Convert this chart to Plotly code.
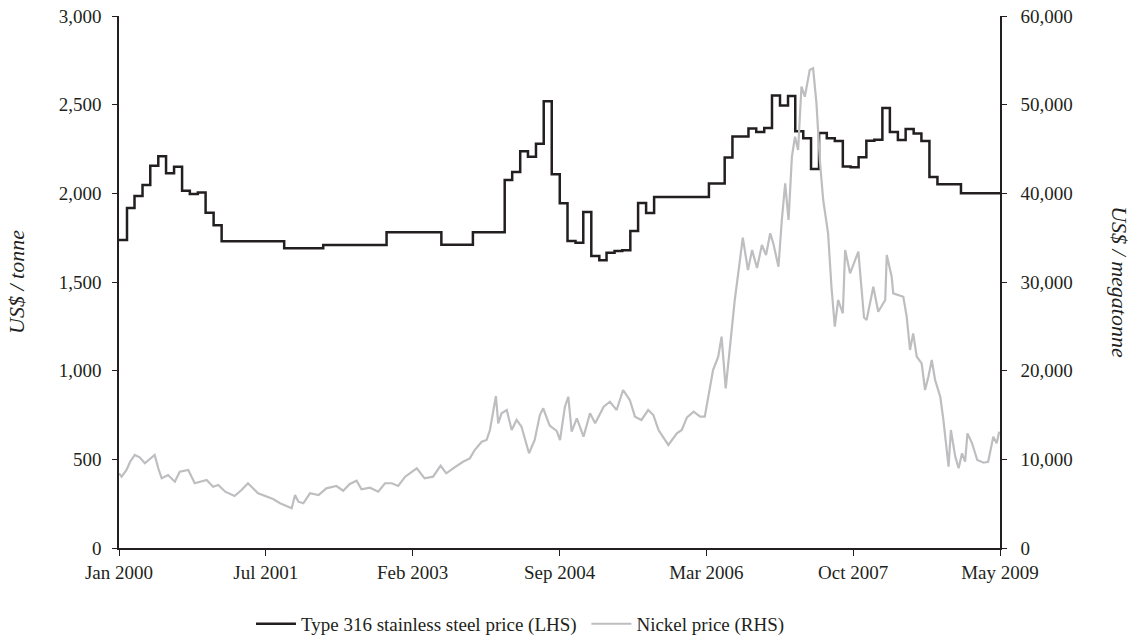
import pandas as pd
import plotly.graph_objects as go

# Type 316 stainless steel, monthly (US$/tonne), Jan 2000 - May 2009
steel_start = "2000-01-01"
steel_price = [
    1737, 1917, 1985, 2047, 2156, 2209, 2113, 2150, 2015, 1996, 2004, 1891,
    1820, 1730, 1730, 1730, 1730, 1730, 1730, 1730, 1730, 1690, 1690, 1690,
    1690, 1690, 1709, 1709, 1709, 1709, 1709, 1709, 1709, 1709, 1780, 1780,
    1780, 1780, 1780, 1780, 1780, 1710, 1710, 1710, 1710, 1780, 1780, 1780,
    1780, 2075, 2120, 2237, 2207, 2280, 2519, 2107, 1944, 1731, 1722, 1895,
    1647, 1622, 1665, 1675, 1679, 1788, 1946, 1889, 1979, 1979, 1979, 1979,
    1979, 1979, 1979, 2056, 2056, 2202, 2320, 2320, 2365, 2346, 2368, 2551,
    2496, 2549, 2350, 2310, 2137, 2340, 2310, 2295, 2152, 2147, 2203, 2297,
    2302, 2481, 2346, 2301, 2363, 2338, 2295, 2092, 2051, 2051, 2051, 2000,
    2000, 2000, 2000, 2000, 2000,
]

# Nickel price
nickel_dates = [
    "2000-01-01", "2000-01-11", "2000-01-30", "2000-02-13", "2000-03-02", "2000-03-21",
    "2000-04-10", "2000-04-29", "2000-05-18", "2000-06-01", "2000-06-14", "2000-07-09",
    "2000-08-04", "2000-08-23", "2000-09-25", "2000-10-20", "2000-12-05", "2000-12-30",
    "2001-01-19", "2001-02-15", "2001-03-23", "2001-04-19", "2001-05-14", "2001-06-22",
    "2001-07-24", "2001-08-19", "2001-09-15", "2001-10-30", "2001-11-12", "2001-11-25",
    "2001-12-14", "2002-01-09", "2002-02-11", "2002-03-13", "2002-04-21", "2002-05-17",
    "2002-06-12", "2002-07-08", "2002-07-27", "2002-08-29", "2002-09-30", "2002-10-26",
    "2002-11-21", "2002-12-16", "2003-01-12", "2003-02-01", "2003-02-26", "2003-03-28",
    "2003-04-30", "2003-05-29", "2003-06-20", "2003-07-22", "2003-08-24", "2003-09-19",
    "2003-10-08", "2003-11-04", "2003-11-23", "2003-12-06", "2003-12-18", "2003-12-29",
    "2004-01-07", "2004-01-20", "2004-02-09", "2004-02-28", "2004-03-18", "2004-04-06",
    "2004-05-05", "2004-05-27", "2004-06-16", "2004-06-29", "2004-07-24", "2004-08-20",
    "2004-09-02", "2004-09-21", "2004-10-04", "2004-10-17", "2004-11-06", "2004-12-02",
    "2004-12-27", "2005-01-16", "2005-02-18", "2005-03-14", "2005-04-09", "2005-05-04",
    "2005-05-30", "2005-06-19", "2005-07-14", "2005-08-09", "2005-08-29", "2005-09-18",
    "2005-10-26", "2005-11-28", "2005-12-17", "2006-01-06", "2006-02-01", "2006-02-26",
    "2006-03-16", "2006-03-29", "2006-04-17", "2006-05-07", "2006-05-20", "2006-06-05",
    "2006-06-15", "2006-06-28", "2006-07-10", "2006-07-29", "2006-08-10", "2006-08-30",
    "2006-09-15", "2006-10-04", "2006-10-23", "2006-11-08", "2006-11-24", "2006-12-06",
    "2006-12-26", "2007-01-08", "2007-01-21", "2007-02-03", "2007-02-16", "2007-02-28",
    "2007-03-12", "2007-03-25", "2007-04-07", "2007-04-26", "2007-05-09", "2007-05-22",
    "2007-06-04", "2007-06-17", "2007-07-06", "2007-07-19", "2007-08-01", "2007-08-14",
    "2007-09-01", "2007-09-10", "2007-09-29", "2007-10-31", "2007-11-15", "2007-11-22",
    "2007-12-02", "2007-12-28", "2008-01-16", "2008-02-12", "2008-02-18", "2008-03-08",
    "2008-03-14", "2008-04-03", "2008-04-22", "2008-05-05", "2008-05-18", "2008-05-30",
    "2008-06-13", "2008-07-02", "2008-07-15", "2008-07-28", "2008-08-10", "2008-08-23",
    "2008-09-12", "2008-09-24", "2008-10-08", "2008-10-14", "2008-10-23", "2008-11-09",
    "2008-11-22", "2008-12-05", "2008-12-17", "2008-12-26", "2009-01-13", "2009-02-02",
    "2009-02-27", "2009-03-16", "2009-03-23", "2009-04-05", "2009-04-18", "2009-04-28",
]
nickel_price = [
    8425, 8045, 8797, 9733, 10490, 10230,
    9550, 10000, 10490, 8990, 7860, 8230,
    7480, 8600, 8800, 7300, 7670, 6910,
    7100, 6350, 5860, 6540, 7300, 6170,
    5785, 5525, 5040, 4475, 5980, 5220,
    5040, 6170, 5980, 6730, 6990, 6460,
    7220, 7590, 6620, 6800, 6350, 7300,
    7300, 6990, 8045, 8420, 8990, 7860,
    8045, 9280, 8420, 9100, 9730, 10110,
    11050, 11990, 12180, 13310, 15560, 17140,
    14060, 15190, 15560, 13310, 14440, 13680,
    10680, 12180, 15000, 15750, 13800, 13200,
    12180, 15935, 17060, 13120, 14630, 12550,
    15190, 14060, 15935, 16500, 15560, 17820,
    16690, 14810, 14440, 15560, 15000, 13310,
    11620, 12930, 13310, 14740, 15370, 14810,
    14810, 17060, 20070, 21570, 23830, 18010,
    20830, 24590, 27970, 32250, 35000, 31350,
    33600, 31580, 34170, 33040, 35490, 34360,
    31720, 36990, 41130, 36990, 44130, 46390,
    44890, 52030, 50900, 53910, 54100, 50150,
    43760, 39250, 35490, 29470, 24960, 27970,
    26470, 33610, 30980, 33420, 28720, 26000,
    25710, 29470, 26650, 27970, 33040, 30600,
    28720, 28530, 28340, 26090, 22330, 24210,
    21570, 20830, 17820, 19320, 21200, 18950,
    17060, 14440, 11050, 9170, 13310, 10300,
    8990, 10680, 9730, 12930, 11810, 9925,
    9620, 9730, 10680, 12550, 11810, 13120,
]

x_start, x_end = "2000-01-01", "2009-05-01"
tick_text = ["Jan 2000", "Jul 2001", "Feb 2003", "Sep 2004", "Mar 2006", "Oct 2007", "May 2009"]

steel_dates = pd.date_range(steel_start, periods=len(steel_price), freq="MS")
tick_vals = pd.date_range(x_start, x_end, periods=len(tick_text))

font = "Liberation Serif, Times New Roman, serif"
ink = "#231F20"
gap = "\u00a0"  # a little extra room between the two legend entries

fig = go.Figure()
fig.add_trace(go.Scatter(
    x=steel_dates, y=steel_price, mode="lines", line_shape="hv",
    name="Type 316 stainless steel price (LHS)" + gap,
    line=dict(color=ink, width=2.5),
))
fig.add_trace(go.Scatter(
    x=pd.to_datetime(nickel_dates), y=nickel_price, mode="lines", yaxis="y2",
    name="Nickel price (RHS)",
    line=dict(color="#BEBEC1", width=2.2),
))

axis_common = dict(showgrid=False, zeroline=False, showline=True, linecolor=ink,
                   linewidth=1.5, ticks="outside", tickcolor=ink, automargin=False,
                   tickfont=dict(family=font, size=19, color=ink))

fig.update_layout(
    width=1131, height=641,
    margin=dict(l=119, r=131, t=16, b=93, autoexpand=False),
    paper_bgcolor="white", plot_bgcolor="white",
    font=dict(family=font, size=19, color=ink),
    xaxis=dict(type="date", range=[x_start, x_end], tickvals=tick_vals, ticktext=tick_text,
               ticklen=6, ticklabelstandoff=0, **axis_common),
    yaxis=dict(range=[0, 3000], tickvals=[0, 500, 1000, 1500, 2000, 2500, 3000],
               tickformat=",d", ticklen=5, ticklabelstandoff=7, **axis_common),
    yaxis2=dict(range=[0, 60000], overlaying="y", side="right",
                tickvals=[0, 10000, 20000, 30000, 40000, 50000, 60000],
                tickformat=",d", ticklen=5, ticklabelstandoff=10, **axis_common),
    legend=dict(orientation="h", x=0.1498, xanchor="left", y=-0.107, yanchor="top",
                itemwidth=40, font=dict(family=font, size=19, color=ink)),
    annotations=[
        dict(text="<i>US$ / tonne</i>", xref="paper", yref="paper", x=-0.117, y=0.5,
             xanchor="center", yanchor="middle", textangle=-90, showarrow=False,
             font=dict(family=font, size=22)),
        dict(text="<i>US$ / megatonne</i>", xref="paper", yref="paper", x=1.136, y=0.5,
             xanchor="center", yanchor="middle", textangle=90, showarrow=False,
             font=dict(family=font, size=22)),
    ],
)

fig.write_html("out.html", config={"displayModeBar": False},
               post_script="document.body.style.margin='0';")
